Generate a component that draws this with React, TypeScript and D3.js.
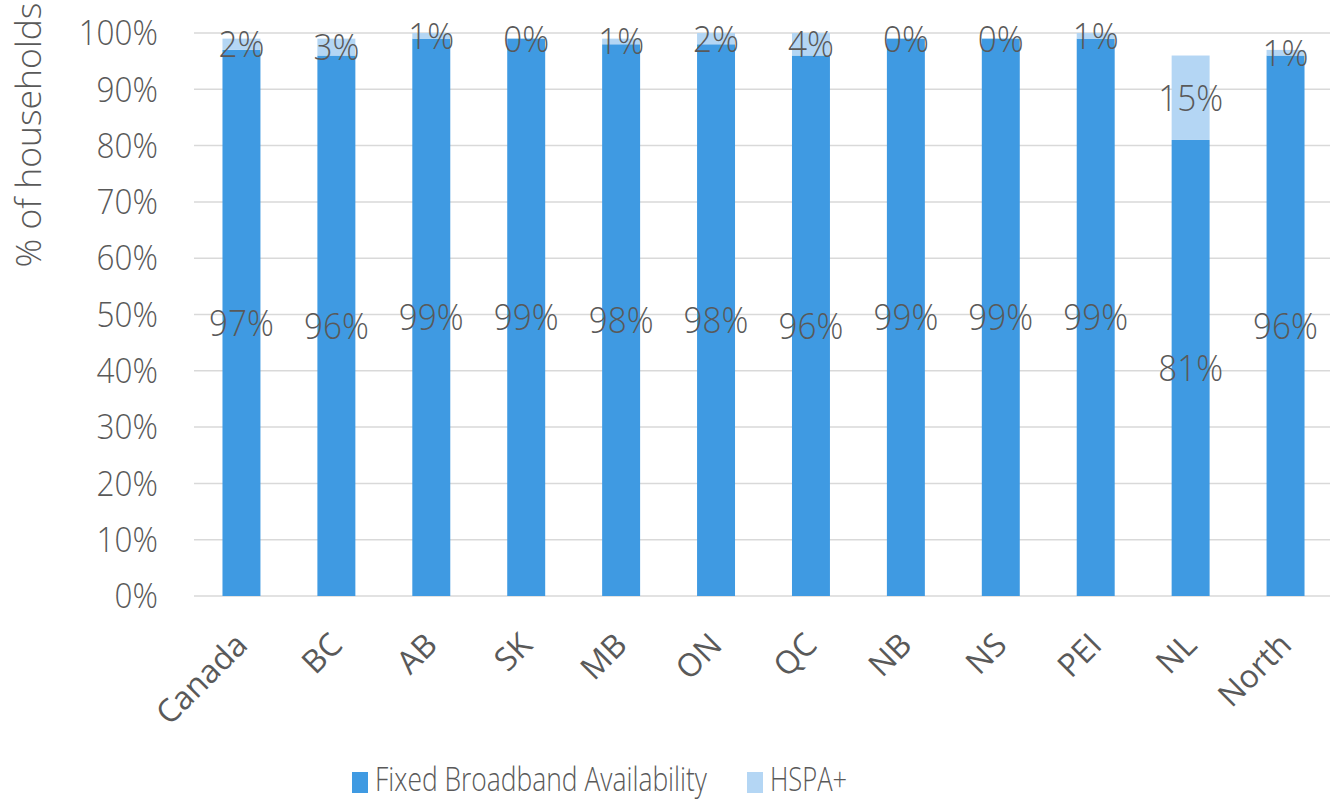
import React from "react";
import * as d3 from "d3";

const categories = ["Canada", "BC", "AB", "SK", "MB", "ON", "QC", "NB", "NS", "PEI", "NL", "North"];
const fixedBroadband = [97, 96, 99, 99, 98, 98, 96, 99, 99, 99, 81, 96];
const hspaPlus = [2, 3, 1, 0, 1, 2, 4, 0, 0, 1, 15, 1];
const yTicks = [0, 10, 20, 30, 40, 50, 60, 70, 80, 90, 100];
const seriesNames = ["Fixed Broadband Availability", "HSPA+"];

const W = 1330;
const H = 802;
const margin = { left: 194, right: -3, top: 33, bottom: 206 };
const FONT = "'Open Sans', sans-serif";
const TEXT = "#595959";
const C_FIXED = "#3F9AE2";
const C_HSPA = "#B4D6F4";

function T(props: {
  x: number;
  y: number;
  sx?: number;
  size: number;
  anchor?: string;
  dy?: string;
  weight?: number;
  rotate?: number;
  textLength?: number;
  children: any;
}) {
  const { x, y, sx = 1, size, anchor = "start", dy, weight = 300, rotate = 0, textLength, children } = props;
  return (
    <text
      transform={`translate(${x},${y}) rotate(${rotate}) scale(${sx},1)`}
      textAnchor={anchor}
      dy={dy}
      fontFamily={FONT}
      fontWeight={weight}
      fontSize={size}
      fill={TEXT}
      textLength={textLength}
      lengthAdjust={textLength ? "spacingAndGlyphs" : undefined}
    >
      {children}
    </text>
  );
}

export default function App() {
  const x = d3
    .scaleBand<string>()
    .domain(categories)
    .range([margin.left, W - margin.right])
    .paddingInner(0.6)
    .paddingOuter(0.3);
  const y = d3.scaleLinear().domain([0, 100]).range([H - margin.bottom, margin.top]);

  const rows = categories.map((c, i) => ({ c, f: fixedBroadband[i], h: hspaPlus[i] }));
  const stack = d3.stack<any>().keys(["f", "h"])(rows as any);
  const colors = [C_FIXED, C_HSPA];

  return (
    <svg width={W} height={H} style={{ position: "absolute", left: 0, top: 0, background: "#fff" }}>
      {yTicks.map((t) => (
        <line key={t} x1={margin.left} x2={W} y1={y(t)} y2={y(t)} stroke="#D9D9D9" strokeWidth={1.5} />
      ))}
      {yTicks.map((t) => (
        <T key={"yl" + t} x={158} y={y(t)} dy="0.35em" anchor="end" size={35} sx={0.9}>
          {t}%
        </T>
      ))}
      <T x={41} y={135} rotate={-90} anchor="middle" size={35.5}>
        % of households
      </T>
      {stack.map((s, si) =>
        s.map((d, i) => (
          <rect
            key={si + "-" + i}
            x={x(categories[i])}
            width={x.bandwidth()}
            y={y(d[1])}
            height={Math.max(0, y(d[0]) - y(d[1]))}
            fill={colors[si]}
          />
        ))
      )}
      {stack.map((s, si) =>
        s.map((d, i) => (
          <T
            key={"dl" + si + "-" + i}
            x={(x(categories[i]) as number) + x.bandwidth() / 2}
            y={y((d[0] + d[1]) / 2)}
            dy="0.35em"
            anchor="middle"
            size={37}
            sx={0.9}
          >
            {(si === 0 ? fixedBroadband[i] : hspaPlus[i]) + "%"}
          </T>
        ))
      )}
      {categories.map((c) => {
        const cx = (x(c) as number) + x.bandwidth() / 2;
        return (
          <T key={"xl" + c} x={cx - 8} y={631} rotate={-45} anchor="end" dy="0.7em" weight={400} size={32}>
            {c}
          </T>
        );
      })}
      <rect x={352} y={772} width={16} height={21} fill={C_FIXED} />
      <T x={375} y={791} size={33} textLength={332}>
        {seriesNames[0]}
      </T>
      <rect x={747} y={772} width={16} height={21} fill={C_HSPA} />
      <T x={770} y={791} size={33} textLength={77}>
        {seriesNames[1]}
      </T>
    </svg>
  );
}
